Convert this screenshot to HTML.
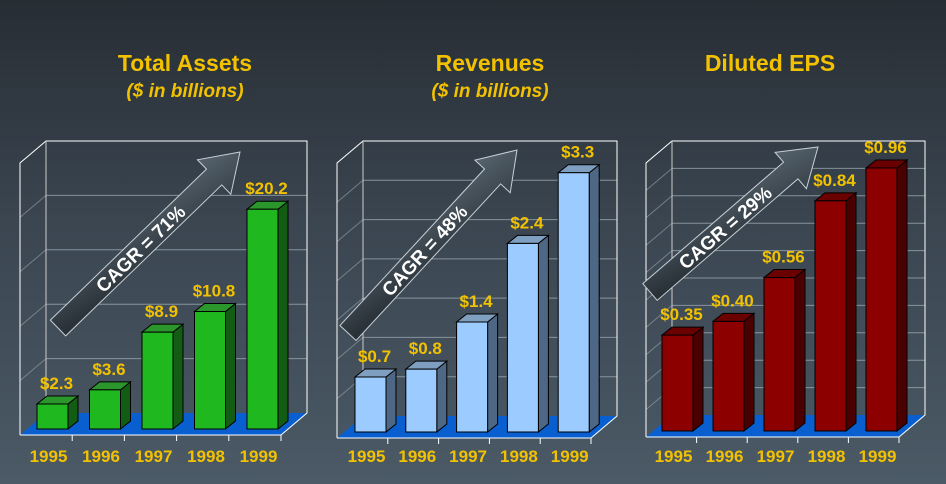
<!DOCTYPE html>
<html><head><meta charset="utf-8"><style>
html,body{margin:0;padding:0;width:946px;height:484px;overflow:hidden}
body{background:linear-gradient(#272d34 0%,#3a4550 45%,#4b5a66 100%);font-family:"Liberation Sans",Arial,sans-serif}
svg{position:absolute;left:0;top:0}
</style></head><body>
<svg id="c" width="946" height="484">
<defs>
<linearGradient id="ag" x1="0" y1="1" x2="1" y2="0"><stop offset="0" stop-color="#1f252b"/><stop offset="1" stop-color="#5a6872"/></linearGradient>
</defs>
</svg>
<script>
const years=["1995","1996","1997","1998","1999"];
const assets=[2.3,3.6,8.9,10.8,20.2];
const assetLabels=["$2.3","$3.6","$8.9","$10.8","$20.2"];
const revenues=[0.7,0.8,1.4,2.4,3.3];
const revenueLabels=["$0.7","$0.8","$1.4","$2.4","$3.3"];
const eps=[0.35,0.40,0.56,0.84,0.96];
const epsLabels=["$0.35","$0.40","$0.56","$0.84","$0.96"];
const assetTicks=[0,5,10,15,20,25];
const revenueTicks=[0,0.5,1,1.5,2,2.5,3,3.5];
const epsTicks=[0,0.1,0.2,0.3,0.4,0.5,0.6,0.7,0.8,0.9,1.0];

const NS="http://www.w3.org/2000/svg";
const svg=document.getElementById('c');
function mk(tag,attrs,parent){const e=document.createElementNS(NS,tag);for(const k in attrs)e.setAttribute(k,attrs[k]);(parent||svg).appendChild(e);return e;}

const panels=[
 {name:"total-assets",title:"Total Assets",sub:"($ in billions)",tx:185,wallL:46,wallR:307,floorY:413,vals:assets,labels:assetLabels,ticks:assetTicks,bar0:37,pitch:52.5,
  front:"#1fb81f",side:"#135c13",top:"#2b962b",cagr:"CAGR =  71%",arrow:[58,328,240,152]},
 {name:"revenues",title:"Revenues",sub:"($ in billions)",tx:490,wallL:363,wallR:617,floorY:416,vals:revenues,labels:revenueLabels,ticks:revenueTicks,bar0:355,pitch:50.8,
  front:"#9ccbff",side:"#4d6785",top:"#7f9fc0",cagr:"CAGR = 48%",arrow:[348,333,517,150]},
 {name:"diluted-eps",title:"Diluted EPS",sub:"",tx:770,wallL:672,wallR:925,floorY:415,vals:eps,labels:epsLabels,ticks:epsTicks,bar0:662,pitch:51,
  front:"#8c0000",side:"#4a0000",top:"#6a0000",cagr:"CAGR = 29%",arrow:[650,292,818,147]}
];
const DX=26,DY=22,WALLTOP=141,BW=31,BD=10,BDY=8;

panels.forEach(p=>{
  const g=mk('g',{});
  
  
  const t=mk('text',{x:p.tx,y:71,'text-anchor':'middle','font-size':23,'font-weight':'bold',fill:'#f2c200'},g);
  t.textContent=p.title;
  
  
  if(p.sub){const s=mk('text',{x:p.tx,y:97,'text-anchor':'middle','font-size':19,'font-weight':'bold','font-style':'italic',fill:'#f2c200'},g);
    s.textContent=p.sub;
    
    }
  const tmax=p.ticks[p.ticks.length-1];
  const scale=(p.floorY-WALLTOP)/tmax;
  const yb=v=>p.floorY-v*scale;
  const fl=p.wallL-DX, fy=p.floorY+DY;
  const floor=mk('polygon',{points:`${p.wallL},${p.floorY} ${p.wallR},${p.floorY} ${p.wallR-DX},${fy} ${fl},${fy}`,fill:'#0a5fd0'},g);
  
  
  p.ticks.forEach((v,i)=>{
    const y=yb(v);
    if(i>0&&i<p.ticks.length-1){
      const gl=mk('line',{x1:p.wallL,y1:y,x2:p.wallR,y2:y,stroke:'#9aa6ae','stroke-width':1,opacity:0.8},g);
      
      
      mk('line',{x1:p.wallL,y1:y,x2:fl,y2:y+DY,stroke:'#9aa6ae','stroke-width':1,opacity:0.6},g);
    }
  });
  mk('polyline',{points:`${fl},${fy} ${fl},${WALLTOP+DY} ${p.wallL},${WALLTOP} ${p.wallR},${WALLTOP} ${p.wallR},${p.floorY} ${p.wallR-DX},${fy} ${fl},${fy}`,fill:'none',stroke:'#fff','stroke-width':1},g);
  mk('line',{x1:p.wallL,y1:WALLTOP,x2:p.wallL,y2:p.floorY,stroke:'#ccc','stroke-width':1},g);
  const [x0,y0,x1,y1]=p.arrow;
  const ang=Math.atan2(y1-y0,x1-x0), len=Math.hypot(x1-x0,y1-y0);
  const ag=mk('g',{transform:`translate(${x0},${y0}) rotate(${ang*180/Math.PI})`},g);
  
  
  const hl=36;
  mk('polygon',{points:`0,-11 ${len-hl},-11 ${len-hl},-24 ${len},0 ${len-hl},24 ${len-hl},11 0,11`,fill:'url(#ag)',stroke:'#c8d0d6','stroke-width':1},ag);
  const ct=mk('text',{x:(len-hl)/2+6,y:7,'text-anchor':'middle','font-size':19,'font-weight':'bold',fill:'#fff'},ag);
  ct.textContent=p.cagr;
  
  
  const base=p.floorY+16;
  p.vals.forEach((v,i)=>{
    const x=p.bar0+i*p.pitch, top=base-v*scale;
    const bg=mk('g',{},g);
    
    
    mk('polygon',{points:`${x+BW},${top} ${x+BW+BD},${top-BDY} ${x+BW+BD},${base-BDY} ${x+BW},${base}`,fill:p.side,stroke:'#000','stroke-width':1},bg);
    mk('polygon',{points:`${x},${top} ${x+BD},${top-BDY} ${x+BW+BD},${top-BDY} ${x+BW},${top}`,fill:p.top,stroke:'#000','stroke-width':1},bg);
    mk('rect',{x:x,y:top,width:BW,height:base-top,fill:p.front,stroke:'#000','stroke-width':1},bg);
    const vl=mk('text',{x:x+BW/2+4,y:top-15,'text-anchor':'middle','font-size':17,'font-weight':'bold',fill:'#f2c200'},g);
    vl.textContent=p.labels[i];
    
    
    const yl=mk('text',{x:x+BW/2-4,y:462,'text-anchor':'middle','font-size':17,'font-weight':'bold',fill:'#f2c200'},g);
    yl.textContent=years[i];
    
    
    const tx=fl+(i+1)*(p.wallR-p.wallL)/5;
    mk('line',{x1:tx,y1:fy,x2:tx,y2:fy+6,stroke:'#fff','stroke-width':1},g);
  });
});
</script>
</body></html>
